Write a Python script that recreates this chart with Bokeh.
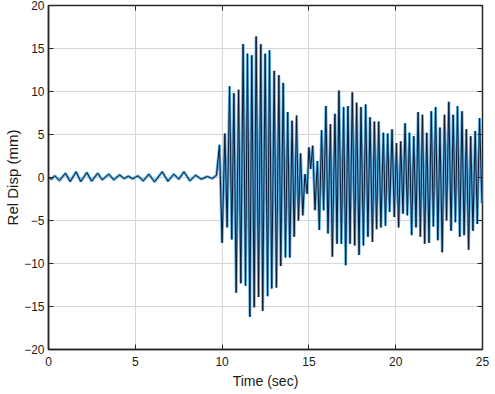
from bokeh.plotting import figure
from bokeh.models import LinearAxis, FixedTicker, Range1d
from bokeh.embed import file_html
from bokeh.resources import INLINE

# ---- data (extrema of the response) ----
t_sec = [
    0.0, 0.17, 0.36, 0.63, 0.98, 1.25, 1.59, 1.86, 2.21, 2.48, 2.84, 3.09, 3.48, 3.76,
    4.09, 4.36, 4.6, 4.85, 5.15, 5.46, 5.78, 6.11, 6.55, 6.88, 7.22, 7.51, 7.8, 8.15,
    8.47, 8.8, 9.15, 9.43, 9.68,
    9.85, 10.0, 10.16, 10.29, 10.43, 10.56, 10.68, 10.81, 10.95, 11.08, 11.21, 11.35,
    11.46, 11.6, 11.71, 11.85, 11.96, 12.1, 12.23, 12.34, 12.48, 12.62, 12.73, 12.86,
    13.0, 13.13, 13.27, 13.38, 13.52, 13.65, 13.78, 13.9, 14.03, 14.15, 14.29, 14.4,
    14.52, 14.65, 14.77, 14.9,
    15.0, 15.1, 15.22, 15.35, 15.49, 15.6, 15.73, 15.85, 15.98, 16.1, 16.24, 16.35,
    16.5, 16.62, 16.73, 16.87, 17.0, 17.12, 17.25, 17.37, 17.5, 17.64, 17.75, 17.89,
    18.0, 18.14,
    18.27, 18.4, 18.52, 18.66, 18.77, 18.9, 19.02, 19.15, 19.29, 19.41, 19.54, 19.65,
    19.79, 19.92, 20.04, 20.17, 20.29, 20.42, 20.54, 20.67, 20.79, 20.92, 21.04, 21.17,
    21.29, 21.42,
    21.54, 21.67, 21.79, 21.92, 22.05, 22.17, 22.3, 22.43, 22.55, 22.68, 22.81, 22.93,
    23.06, 23.19, 23.31, 23.44, 23.56, 23.69, 23.82, 23.94, 24.07, 24.2, 24.32, 24.45,
    24.58, 24.7, 24.83, 24.97,
]
rel_disp_mm = [
    0.0, -0.19, 0.19, -0.35, 0.5, -0.47, 0.66, -0.47, 0.58, -0.43, 0.5, -0.27, 0.39, -0.27,
    0.31, -0.12, 0.15, -0.15, 0.19, -0.39, 0.39, -0.5, 0.66, -0.43, 0.39, -0.19, 0.66, -0.39,
    0.27, -0.19, 0.12, -0.12, 0.27,
    3.8, -7.6, 5.1, -5.8, 10.6, -7.2, 9.8, -13.4, 10.2, -12.3, 15.5, -12.6,
    14.4, -16.2, 14.2, -15.1, 16.4, -13.9, 15.5, -15.5, 14.4, -13.8, 14.8, -12.9,
    12.4, -12.8, 11.9, -10.3, 11.0, -9.3, 7.6, -9.3, 6.6, -6.9, 7.2, -5.0,
    2.8, -4.4, 0.4, -1.9,
    3.5, 1.0, 3.7, -3.8, 1.9, -6.1, 5.5, -3.8, 8.3, -6.5, 6.2, -9.2,
    7.4, -7.7, 10.1, -7.7, 8.2, -10.2, 8.3, -7.7, 9.9, -7.9, 8.7, -9.0,
    8.2, -7.9,
    8.5, -6.9, 7.0, -7.5, 6.5, -6.0, 6.5, -5.8, 5.2, -5.6, 5.1, -4.0,
    5.6, -4.6, 4.0, -5.8, 4.2, -4.2, 6.3, -4.4, 5.2, -6.7, 4.8, -5.8,
    7.6, -6.9,
    7.3, -7.7, 5.2, -7.6, 7.7, -5.7, 8.2, -7.3, 5.8, -8.7, 7.3, -5.0,
    8.8, -6.2, 7.3, -5.2, 8.3, -6.9, 7.7, -6.7, 5.6, -8.4, 4.8, -6.2,
    5.4, -5.4, 6.9, -3.0,
]
x_ticks = [0, 5, 10, 15, 20, 25]
y_ticks = [-20, -15, -10, -5, 0, 5, 10, 15, 20]

FONT = "Liberation Sans"
DARK = "#262626"

p = figure(width=494, height=392, output_backend="svg", toolbar_location=None,
           x_range=Range1d(0, 25), y_range=Range1d(-20, 20),
           min_border_left=48, min_border_top=5, min_border_right=12, min_border_bottom=43,
           background_fill_color="white", border_fill_color="white",
           styles={"margin-left": "0px", "margin-top": "0px"})

p.outline_line_color = DARK
p.outline_line_width = 1.5

for ax in (p.xaxis[0], p.yaxis[0]):
    ax.axis_line_color = DARK
    ax.axis_line_width = 1.5
    ax.major_tick_line_color = DARK
    ax.major_tick_in = 5
    ax.major_tick_out = 0
    ax.minor_tick_line_color = None
    ax.major_label_text_font = FONT
    ax.major_label_text_font_size = "12px"
    ax.major_label_text_color = "#1a1a1a"
    ax.axis_label_text_font = FONT
    ax.axis_label_text_font_style = "normal"
    ax.axis_label_text_color = "#1a1a1a"

p.xaxis[0].ticker = FixedTicker(ticks=x_ticks)
p.yaxis[0].ticker = FixedTicker(ticks=y_ticks)
p.xaxis[0].axis_label = "Time (sec)"
p.yaxis[0].axis_label = "Rel Disp (mm)"
p.xaxis[0].axis_label_text_font_size = "14px"
p.yaxis[0].axis_label_text_font_size = "15px"
p.xaxis[0].major_label_standoff = 7
p.xaxis[0].axis_label_standoff = 4
p.yaxis[0].major_label_standoff = 4
p.yaxis[0].axis_label_standoff = 0

for side, tk in (("right", y_ticks), ("above", x_ticks)):
    ax = LinearAxis(ticker=FixedTicker(ticks=tk),
                    major_label_overrides={v: "" for v in tk})
    ax.axis_line_color = None
    ax.major_tick_line_color = DARK
    ax.major_tick_in = 5
    ax.major_tick_out = 0
    ax.minor_tick_line_color = None
    ax.major_label_text_font_size = "1px"
    ax.major_label_standoff = 0
    p.add_layout(ax, side)

p.xgrid.ticker = FixedTicker(ticks=x_ticks)
p.ygrid.ticker = FixedTicker(ticks=y_ticks)
p.grid.grid_line_color = "#d6d6d6"
p.grid.grid_line_width = 1

p.line(t_sec, rel_disp_mm, line_color="#5fb2e3", line_width=2.8)
p.line(t_sec, rel_disp_mm, line_color="#0c1a33", line_width=1.0)

open("out.html", "w").write(file_html(p, INLINE))
